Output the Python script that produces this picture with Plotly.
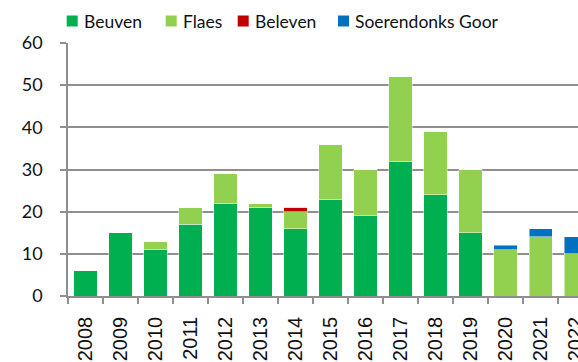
import plotly.graph_objects as go

years = ["2008", "2009", "2010", "2011", "2012", "2013", "2014", "2015",
         "2016", "2017", "2018", "2019", "2020", "2021", "2022"]
beuven = [6, 15, 11, 17, 22, 21, 16, 23, 19, 32, 24, 15, 0, 0, 0]
flaes = [0, 0, 2, 4, 7, 1, 4, 13, 11, 20, 15, 15, 11, 14, 10]
beleven = [0, 0, 0, 0, 0, 0, 1, 0, 0, 0, 0, 0, 0, 0, 0]
soerendonks_goor = [0, 0, 0, 0, 0, 0, 0, 0, 0, 0, 0, 0, 1, 2, 4]

series = [
    ("Beuven", beuven, "#00B050"),
    ("Flaes", flaes, "#92D050"),
    ("Beleven", beleven, "#C00000"),
    ("Soerendonks Goor", soerendonks_goor, "#0070C0"),
]

W, H = 578, 362
M_L, M_R, M_T, M_B = 68, 0, 43, 66
PLOT_W = W - M_L - M_R
PLOT_H = H - M_T - M_B


def px_to_paper(px, py):
    return (px - M_L) / PLOT_W, (H - M_B - py) / PLOT_H


fig = go.Figure()
for name, values, color in series:
    fig.add_trace(go.Bar(
        x=years, y=values, name=name, showlegend=False,
        marker=dict(color=color, line=dict(color="rgba(255,255,255,0.6)", width=0.8)),
    ))

# Compact legend row above the plot: square swatch followed by the series name
legend_left = [66.7, 165.7, 237.7, 338.0]
legend_mid_y = 21
swatch = 11
shapes, annotations = [], []
for (name, _, color), left in zip(series, legend_left):
    x0, y0 = px_to_paper(left, legend_mid_y + swatch / 2)
    x1, y1 = px_to_paper(left + swatch, legend_mid_y - swatch / 2)
    shapes.append(dict(type="rect", xref="paper", yref="paper",
                       x0=x0, y0=y0, x1=x1, y1=y1,
                       fillcolor=color, line=dict(width=0)))
    tx, ty = px_to_paper(left + 15, legend_mid_y)
    annotations.append(dict(xref="paper", yref="paper", x=tx, y=ty,
                            xanchor="left", yanchor="middle", showarrow=False,
                            text=name,
                            font=dict(family="Lato, sans-serif", size=17.5, color="#111111")))

grid_color = "#8f8f8f"
fig.update_layout(
    barmode="stack",
    bargap=0.34,
    width=W, height=H,
    margin=dict(l=M_L, r=M_R, t=M_T, b=M_B, pad=0),
    paper_bgcolor="white",
    plot_bgcolor="white",
    font=dict(family="Lato, sans-serif", size=17, color="#111111"),
    showlegend=False,
    shapes=shapes,
    annotations=annotations,
    xaxis=dict(
        type="category",
        range=[-0.5, 14.07],
        automargin=False,
        showgrid=False,
        showline=True, linecolor=grid_color, linewidth=1.5,
        ticks="outside", tickson="boundaries", ticklen=6,
        tickcolor=grid_color, tickwidth=1.5,
        tickangle=-90,
        ticklabelstandoff=11,
        tickfont=dict(family="Liberation Sans, Arial, sans-serif", size=20, color="#111111"),
    ),
    yaxis=dict(
        range=[0, 60],
        automargin=False,
        tickvals=[0, 10, 20, 30, 40, 50, 60],
        showgrid=True, gridcolor=grid_color, gridwidth=1.5,
        showline=True, linecolor=grid_color, linewidth=1.5,
        ticks="outside", ticklen=6, tickcolor=grid_color, tickwidth=1.5,
        ticklabelstandoff=14,
        zeroline=False,
        tickfont=dict(family="Lato, sans-serif", size=18, color="#111111"),
    ),
)

fig.write_html("out.html")
